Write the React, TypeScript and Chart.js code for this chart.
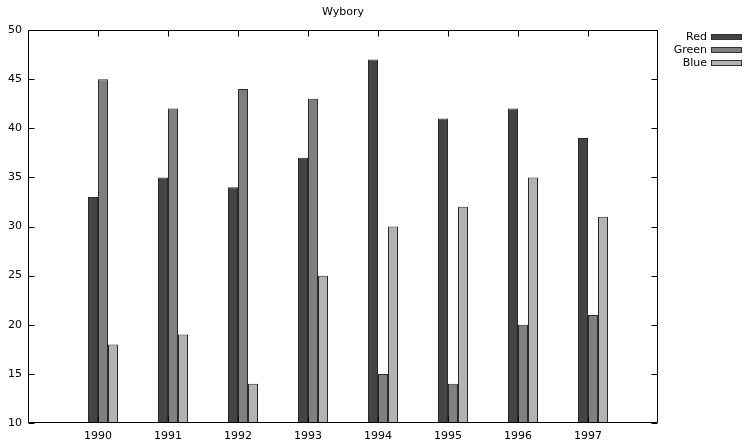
import React, { useEffect, useRef } from "react";
import { Chart, registerables } from "chart.js";

Chart.register(...registerables);

const TITLE = "Wybory";
const years = ["1990", "1991", "1992", "1993", "1994", "1995", "1996", "1997"];
const redValues = [33, 35, 34, 37, 47, 41, 42, 39];
const greenValues = [45, 42, 44, 43, 15, 14, 20, 21];
const blueValues = [18, 19, 14, 25, 30, 32, 35, 31];
const yTicks = [10, 15, 20, 25, 30, 35, 40, 45, 50];

const FONT = "'DejaVu Sans', Verdana, sans-serif";

const framePlugin = {
  id: "frame",
  afterDraw(chart: any) {
    const { ctx, chartArea: a } = chart;
    const xs = chart.scales.x;
    const ys = chart.scales.y;
    ctx.save();
    ctx.strokeStyle = "#000";
    ctx.lineWidth = 1;
    const L = Math.round(a.left) + 0.5;
    const R = Math.round(a.right) - 0.5;
    const T = Math.round(a.top) + 0.5;
    const B = Math.round(a.bottom) - 0.5;
    ctx.beginPath();
    ctx.rect(L, T, R - L, B - T);
    ctx.stroke();
    const tl = 6;
    ctx.beginPath();
    ys.ticks.forEach((t: any) => {
      const y = Math.round(ys.getPixelForValue(t.value)) + 0.5;
      ctx.moveTo(L, y);
      ctx.lineTo(L + tl, y);
      ctx.moveTo(R, y);
      ctx.lineTo(R - tl, y);
    });
    for (let i = 1; i <= years.length; i++) {
      const x = Math.round(xs.getPixelForValue(i)) + 0.5;
      ctx.moveTo(x, B);
      ctx.lineTo(x, B - tl);
      ctx.moveTo(x, T);
      ctx.lineTo(x, T + tl);
    }
    ctx.stroke();

    // title
    ctx.fillStyle = "#000";
    ctx.font = `11px ${FONT}`;
    ctx.textAlign = "center";
    ctx.textBaseline = "middle";
    ctx.fillText(TITLE, (a.left + a.right) / 2, 12);

    // legend
    const items = chart.data.datasets.filter((d: any) => d.label);
    items.forEach((d: any, i: number) => {
      const cy = 37 + i * 13;
      ctx.textAlign = "right";
      ctx.fillStyle = "#000";
      ctx.fillText(d.label, 707, cy);
      ctx.fillStyle = d.backgroundColor;
      ctx.fillRect(711, cy - 3, 31, 6);
      ctx.strokeStyle = "#333";
      ctx.strokeRect(711.5, cy - 2.5, 30, 5);
    });
    ctx.restore();
  },
};

export default function App() {
  const ref = useRef<HTMLCanvasElement>(null);
  useEffect(() => {
    document.body.style.margin = "0";
    const labels = ["", ...years, ""];
    const pad = (arr: number[]) => [null, ...arr, null];
    const common = { borderColor: "#2a2a2a", borderWidth: 1, borderSkipped: false as any };
    const chart = new Chart(ref.current!, {
      type: "bar",
      data: {
        labels,
        datasets: [
          { label: "", data: labels.map(() => null) as any, backgroundColor: "rgba(0,0,0,0)" },
          { label: "Red", data: pad(redValues) as any, backgroundColor: "#444444", ...common },
          { label: "Green", data: pad(greenValues) as any, backgroundColor: "#808080", ...common },
          { label: "Blue", data: pad(blueValues) as any, backgroundColor: "#b3b3b3", ...common },
        ],
      },
      options: {
        responsive: false,
        animation: false,
        layout: { padding: { top: 30, right: 89, left: 0, bottom: 0 } },
        datasets: { bar: { categoryPercentage: 40 / 70, barPercentage: 1 } } as any,
        plugins: { legend: { display: false }, title: { display: false }, tooltip: { enabled: false } },
        scales: {
          x: {
            type: "category",
            offset: false,
            grid: { display: false, offset: false, drawTicks: false },
            border: { display: false },
            ticks: { color: "#000", font: { family: FONT, size: 11 }, padding: 7, maxRotation: 0, autoSkip: false },
            afterFit: (s: any) => { s.height = 19; },
          },
          y: {
            min: yTicks[0],
            max: yTicks[yTicks.length - 1],
            grid: { display: false, drawTicks: false },
            border: { display: false },
            ticks: { stepSize: 5, color: "#000", font: { family: FONT, size: 11 }, padding: 6 },
            afterFit: (s: any) => { s.width = 28; },
          },
        },
      },
      plugins: [framePlugin],
    });
    return () => chart.destroy();
  }, []);
  return <canvas ref={ref} width={747} height={442} style={{ display: "block" }} />;
}
